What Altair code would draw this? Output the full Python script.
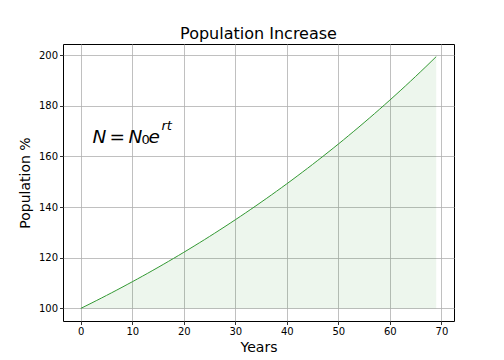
import altair as alt
import pandas as pd

years = list(range(70))
population = [
    100.00, 101.01, 102.02, 103.05, 104.08, 105.13, 106.18, 107.25, 108.33, 109.42,
    110.52, 111.63, 112.75, 113.88, 115.03, 116.18, 117.35, 118.53, 119.72, 120.92,
    122.14, 123.37, 124.61, 125.86, 127.12, 128.40, 129.69, 131.00, 132.31, 133.64,
    134.99, 136.34, 137.71, 139.10, 140.49, 141.91, 143.33, 144.77, 146.23, 147.70,
    149.18, 150.68, 152.20, 153.73, 155.27, 156.83, 158.41, 160.00, 161.61, 163.23,
    164.87, 166.53, 168.21, 169.90, 171.60, 173.33, 175.07, 176.83, 178.60, 180.40,
    182.21, 184.04, 185.89, 187.76, 189.65, 191.55, 193.48, 195.42, 197.39, 199.37,
]
x_ticks = [0, 10, 20, 30, 40, 50, 60, 70]
y_ticks = [100, 120, 140, 160, 180, 200]
x_domain = [-3.45, 72.45]
y_domain = [95.03, 204.35]

df = pd.DataFrame({"Years": years, "Population": population})
FONT = "DejaVu Sans"

x = alt.X("Years:Q", scale=alt.Scale(domain=x_domain, nice=False, zero=False),
          axis=alt.Axis(values=x_ticks, title="Years"))
y = alt.Y("Population:Q", scale=alt.Scale(domain=y_domain, nice=False, zero=False),
          axis=alt.Axis(values=y_ticks, title="Population %"))

base = alt.Chart(df)
area = base.mark_area(color="green", opacity=0.07).encode(x=x, y=y, y2=alt.datum(100))
line = base.mark_line(color="#339933", strokeWidth=1).encode(x=x, y=y)

def txt(s, px, py, size, italic=True):
    return alt.Chart(pd.DataFrame({"t": [s]})).mark_text(
        font=FONT, fontSize=size, fontStyle="italic" if italic else "normal",
        align="left", baseline="alphabetic", color="black"
    ).encode(x=alt.value(px), y=alt.value(py), text="t:N")

formula = [
    txt("N", 29.5, 99, 18.5),
    txt("=", 46.5, 99, 18.5, italic=False),
    txt("N", 65.5, 99, 18.5),
    txt("0", 78.5, 100, 13, italic=False),
    txt("e", 85.5, 99, 18.5),
    txt("rt", 98.5, 86, 13),
]

chart = alt.layer(area, line, *formula).properties(
    width=391, height=277,
    title=alt.TitleParams("Population Increase", fontSize=16, font=FONT,
                          fontWeight="normal", color="black", offset=-11,
                          frame="group", baseline="alphabetic"),
    autosize=alt.AutoSizeParams(type="none"),
    padding={"left": 55, "top": 36, "right": 30, "bottom": 40},
).configure_view(stroke="black", strokeWidth=1).configure_axis(
    domain=False, grid=True, gridColor="#b0b0b0", gridWidth=0.8,
    tickColor="black", tickSize=3.5, tickWidth=0.8,
    labelFont=FONT, labelFontSize=10, labelColor="black", labelPadding=2,
    titleFont=FONT, titleFontSize=14, titleFontWeight="normal", titleColor="black",
).configure_axisX(titlePadding=4).configure_axisY(titlePadding=6)

chart.save("out.html", embed_options={"renderer": "svg", "actions": False})
